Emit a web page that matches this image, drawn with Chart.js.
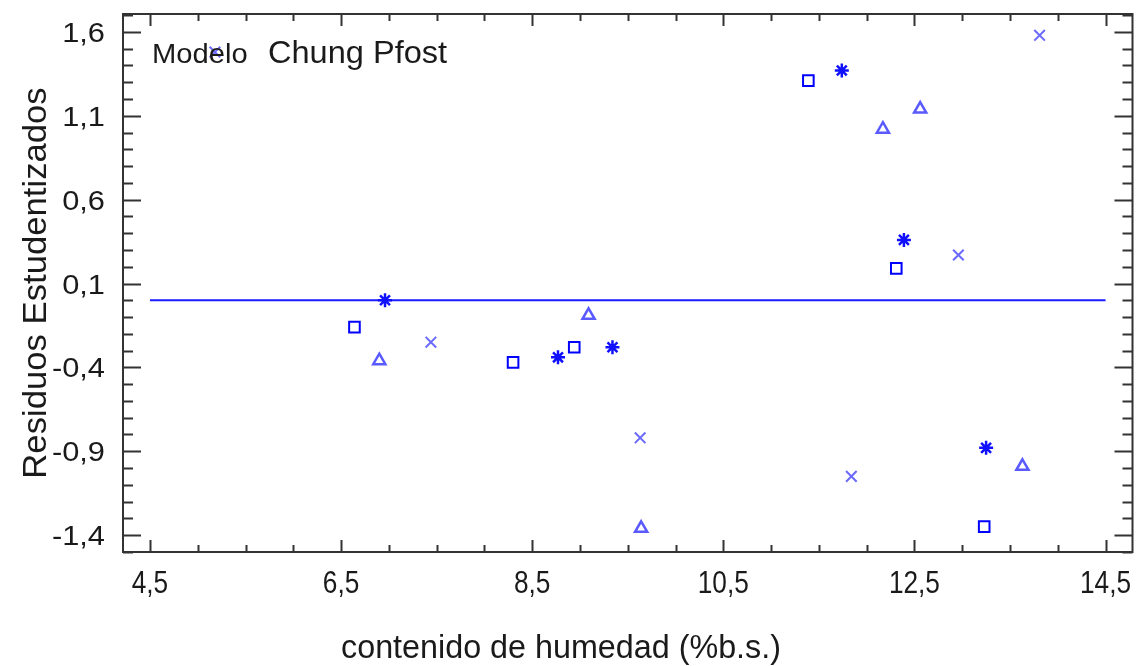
<!DOCTYPE html>
<html>
<head>
<meta charset="utf-8">
<script src="https://cdn.jsdelivr.net/npm/chart.js@4/dist/chart.umd.min.js"></script>
<style>
  html, body { margin: 0; padding: 0; background: #ffffff; }
  #wrap { width: 1142px; height: 666px; position: relative; }
</style>
</head>
<body>
<div id="wrap"><canvas id="c" width="1142" height="666"></canvas></div>
<script>
// ---- data ----
const squareX = [6.64, 8.30, 8.94, 11.39, 12.31, 13.23];
const squareY = [-0.16, -0.37, -0.28, 1.31, 0.19, -1.35];
const starX   = [6.96, 8.77, 9.34, 11.74, 12.39, 13.25];
const starY   = [0.00, -0.34, -0.28, 1.37, 0.36, -0.88];
const triX    = [6.90, 9.09, 9.64, 12.17, 12.56, 13.63];
const triY    = [-0.36, -0.09, -1.36, 1.02, 1.14, -0.99];
const crossX  = [5.18, 7.44, 9.63, 11.84, 12.96, 13.81];
const crossY  = [1.48, -0.25, -0.82, -1.05, 0.27, 1.58];
const zeroLineX = [4.5, 14.5];
const zeroLineY = [0, 0];

const xTicks = [4.5, 6.5, 8.5, 10.5, 12.5, 14.5];
const xTickLabels = ['4,5', '6,5', '8,5', '10,5', '12,5', '14,5'];
const yTicks = [1.6, 1.1, 0.6, 0.1, -0.4, -0.9, -1.4];
const yTickLabels = ['1,6', '1,1', '0,6', '0,1', '-0,4', '-0,9', '-1,4'];
const xMinorStep = 0.5, xMinorFirst = 4.5;
const yMinorStep = 0.1, yMinorFirst = -1.5;

const xTitle = 'contenido de humedad (%b.s.)';
const yTitle = 'Residuos Estudentizados';
const noteSmall = 'Modelo';
const noteBig = 'Chung Pfost';

const FONT = "'Liberation Sans', Arial, sans-serif";
const TEXT = '#1a1a1a';

function pts(xs, ys) { return xs.map((v, i) => ({ x: v, y: ys[i] })); }

function drawText(ctx, text, x, y, size, align, sx, weight) {
  ctx.save();
  ctx.translate(x, y);
  ctx.scale(sx, 1);
  ctx.font = (weight || 'normal') + ' ' + size + 'px ' + FONT;
  ctx.fillStyle = TEXT;
  ctx.textAlign = align;
  ctx.textBaseline = 'alphabetic';
  ctx.fillText(text, 0, 0);
  ctx.restore();
}

const decorPlugin = {
  id: 'decor',
  afterDraw(chart) {
    const { ctx, chartArea: a, scales } = chart;
    const xs = scales.x, ys = scales.y;
    ctx.save();
    // frame
    ctx.strokeStyle = '#333333';
    ctx.lineWidth = 2;
    ctx.strokeRect(a.left, a.top, a.right - a.left, a.bottom - a.top);

    // x ticks (bottom and top), inward
    ctx.lineWidth = 2;
    for (let i = 0; ; i++) {
      const v = xMinorFirst + i * xMinorStep;
      if (v > xs.max + 1e-9) break;
      const px = Math.round(xs.getPixelForValue(v)) + 0.5;
      const major = xTicks.some(t => Math.abs(t - v) < 1e-6);
      const len = major ? 12 : 7;
      ctx.beginPath();
      ctx.moveTo(px, a.bottom); ctx.lineTo(px, a.bottom - len);
      ctx.moveTo(px, a.top); ctx.lineTo(px, a.top + len);
      ctx.stroke();
    }
    // y ticks (left and right), inward
    for (let i = 0; ; i++) {
      const v = yMinorFirst + i * yMinorStep;
      if (v > ys.max + 1e-9) break;
      if (v < ys.min - 1e-9) continue;
      const py = Math.round(ys.getPixelForValue(v)) + 0.5;
      const major = yTicks.some(t => Math.abs(t - v) < 1e-6);
      const len = major ? 18 : 10;
      ctx.beginPath();
      ctx.moveTo(a.left, py); ctx.lineTo(a.left + len, py);
      ctx.moveTo(a.right, py); ctx.lineTo(a.right - len, py);
      ctx.stroke();
    }

    // tick labels
    yTicks.forEach((v, i) => {
      const py = ys.getPixelForValue(v);
      drawText(ctx, yTickLabels[i], 105, py + 10, 28, 'right', 1.1);
    });
    xTicks.forEach((v, i) => {
      const px = xs.getPixelForValue(v);
      drawText(ctx, xTickLabels[i], px, 593, 32, 'center', 0.82);
    });

    // axis titles
    drawText(ctx, xTitle, 561, 658, 34, 'center', 0.95);
    ctx.save();
    ctx.translate(46, 283);
    ctx.rotate(-Math.PI / 2);
    drawText(ctx, yTitle, 0, 0, 34, 'center', 1.02);
    ctx.restore();

    // note inside plot
    drawText(ctx, noteSmall, 152, 63, 27, 'left', 1.08);
    drawText(ctx, noteBig, 268, 63, 31, 'left', 1.05);
    ctx.restore();
  }
};

new Chart(document.getElementById('c'), {
  type: 'scatter',
  data: {
    datasets: [
      {
        label: 'zero', type: 'line', data: pts(zeroLineX, zeroLineY),
        borderColor: '#1a1aff', borderWidth: 2, pointRadius: 0, fill: false, order: 5
      },
      {
        label: 'A', data: pts(squareX, squareY), pointStyle: 'rect',
        pointRadius: 7.5, pointBorderWidth: 2, borderColor: '#0000ff',
        backgroundColor: 'rgba(0,0,0,0)'
      },
      {
        label: 'B', data: pts(starX, starY), pointStyle: 'star',
        pointRadius: 7, pointBorderWidth: 2.5, borderColor: '#1010ff',
        backgroundColor: '#1010ff'
      },
      {
        label: 'C', data: pts(triX, triY), pointStyle: 'triangle',
        pointRadius: 7, pointBorderWidth: 2.5, borderColor: '#5a5aff',
        backgroundColor: 'rgba(0,0,0,0)'
      },
      {
        label: 'D', data: pts(crossX, crossY), pointStyle: 'crossRot',
        pointRadius: 7.5, pointBorderWidth: 2, borderColor: '#6a6aff',
        backgroundColor: 'rgba(0,0,0,0)'
      }
    ]
  },
  options: {
    responsive: false,
    animation: false,
    events: [],
    layout: { padding: { top: 14, right: 8, left: 0, bottom: 0 } },
    plugins: { legend: { display: false }, tooltip: { enabled: false } },
    scales: {
      x: {
        type: 'linear', min: 4.218, max: 14.782,
        grid: { display: false, drawTicks: false },
        border: { display: false },
        ticks: { display: false },
        afterFit(s) { s.height = 114; }
      },
      y: {
        type: 'linear', min: -1.501, max: 1.707,
        grid: { display: false, drawTicks: false },
        border: { display: false },
        ticks: { display: false },
        afterFit(s) { s.width = 123; }
      }
    }
  },
  plugins: [decorPlugin]
});
</script>
</body>
</html>
